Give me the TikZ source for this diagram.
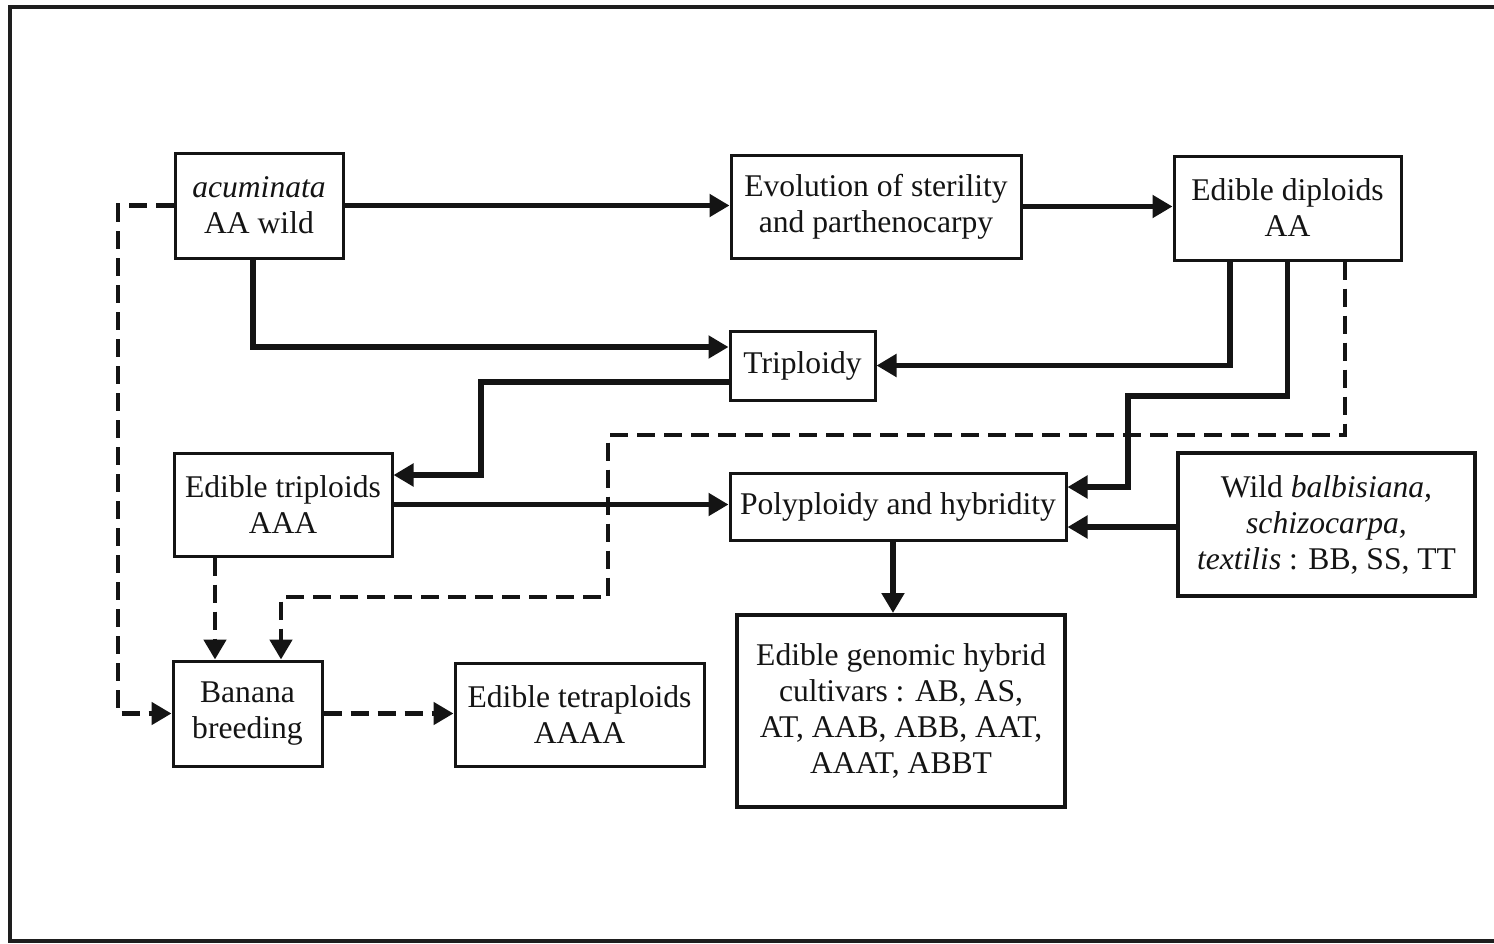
\documentclass[tikz,border=0pt]{standalone}
\usepackage{fontspec}
\setmainfont{Liberation Serif}
\usetikzlibrary{arrows.meta}
\definecolor{ink}{HTML}{141414}
\definecolor{framegray}{HTML}{1E1E1E}
\begin{document}
\begin{tikzpicture}[x=0.5pt,y=-0.5pt,
  box/.style={draw=ink, text=ink, line width=1.5pt, align=center, inner sep=0pt,
    font=\fontsize{15.8}{18}\selectfont},
  heavybox/.style={box, line width=2pt},
  link/.style={draw=ink, line width=2.6pt, -{Triangle[length=10pt,width=11pt]}},
  dlink/.style={link, line width=2.4pt, dash pattern=on 9pt off 4.5pt},
]
\useasboundingbox (0,0) rectangle (1494,943);
\fill[white] (0,0) rectangle (1494,943);

% outer frame, open on the right
\draw[framegray, line width=2pt] (1500,7) -- (10,7) -- (10,941) -- (1500,941);

% boxes
\node[box, minimum width=84pt,    minimum height=52.5pt] (acum)   at (259,205.5)   {\textit{acuminata}\\AA wild};
\node[box, minimum width=145pt,   minimum height=51.5pt] (evol)   at (876,206.5)   {Evolution of sterility\\and parthenocarpy};
\node[box, minimum width=113.5pt, minimum height=52pt]   (dipl)   at (1287.5,208)  {Edible diploids\\AA};
\node[box, minimum width=72.5pt,  minimum height=34.5pt] (tripy)  at (802.5,365.5) {Triploidy};
\node[box, minimum width=109pt,   minimum height=51.5pt] (trip)   at (283,504.5)   {Edible triploids\\AAA};
\node[box, minimum width=168pt,   minimum height=33.5pt] (poly)   at (898,506.5)   {Polyploidy and hybridity};
\node[heavybox, minimum width=148.5pt, minimum height=71.5pt] (wild) at (1326.5,524.5)
  {Wild \textit{balbisiana,}\\\textit{schizocarpa,}\\\textit{textilis} : BB, SS, TT};
\node[box, minimum width=74.5pt,  minimum height=52.5pt] (banana) at (247.5,713.5)  {Banana\\breeding};
\node[box, minimum width=124.5pt, minimum height=51.5pt] (tetra)  at (579.5,714.5)  {Edible tetraploids\\AAAA};
\node[heavybox, minimum width=164pt, minimum height=96pt] (geno) at (901,711)
  {Edible genomic hybrid\\cultivars : AB, AS,\\AT, AAB, ABB, AAT,\\AAAT, ABBT};

% bend points
\coordinate (k1) at (1128,396);
\coordinate (k3) at (481,430);
\coordinate (k4) at (118,400);
\coordinate (d1) at (608,435);
\coordinate (d2) at (608,597);

% solid connectors
\draw[link] (acum.east) -- (acum.east -| evol.west);
\draw[link] (evol.east) -- (evol.east -| dipl.west);
\draw[link] ([xshift=-3pt]acum.south) |- ([yshift=9.25pt]tripy.west);
\draw[link] ([xshift=-28.75pt]dipl.south) |- (tripy.east);
\draw[link] (dipl.south) |- (k1) |- ([yshift=9.75pt]poly.east);
\draw[link] ([yshift=-8.25pt]tripy.west) -| (k3) |- ([yshift=14.75pt]trip.east);
\draw[link] (trip.east) -- (trip.east -| poly.west);
\draw[link] ([yshift=-10.25pt]poly.east -| wild.west) -- ([yshift=-10.25pt]poly.east);
\draw[link] ([xshift=-2.5pt]poly.south) -- ([xshift=-2.5pt]poly.south |- geno.north);

% dashed connectors
\draw[dlink] ([xshift=28.75pt]dipl.south) |- (d1) -- (d2) -| ([xshift=16.75pt]banana.north);
\draw[dlink] ([xshift=-34pt]trip.south) -- ([xshift=-34pt]trip.south |- banana.north);
\draw[dlink] (acum.west) -| (k4) |- (banana.west);
\draw[dlink] (banana.east) -- (banana.east -| tetra.west);
\end{tikzpicture}
\end{document}
